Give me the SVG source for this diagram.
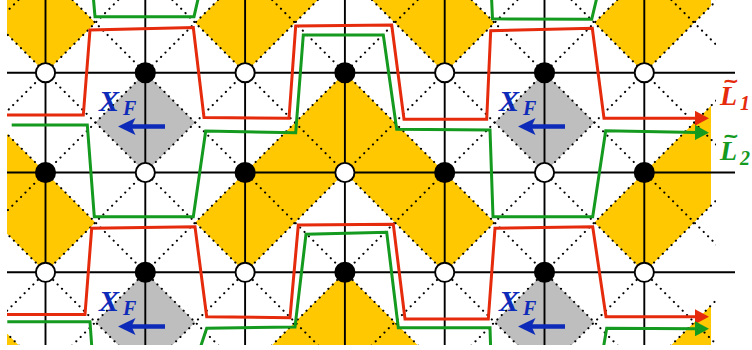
<svg xmlns="http://www.w3.org/2000/svg" width="752" height="350" viewBox="0 0 752 350">
  <style>
    .yel { fill: #FFC800; }
    .gry { fill: #BEBEBE; }
    .dot { fill: none; stroke: #000; stroke-width: 2.1; stroke-linecap: round; stroke-dasharray: 0.1 6.1; }
    .grid { stroke: #000; stroke-width: 1.9; fill: none; }
    .wn { fill: #fff; stroke: #000; stroke-width: 1.9; }
    .bn { fill: #000; stroke: #000; stroke-width: 1.9; }
    .red { fill: none; stroke: #E52B0C; stroke-width: 3; stroke-linejoin: miter; }
    .grn { fill: none; stroke: #149A1E; stroke-width: 3; stroke-linejoin: miter; }
    .lab { font-family: "Liberation Serif", "Times New Roman", serif; font-weight: bold; font-style: italic; }
    .xf { fill: #0D2BB8; }
    .tl { font-family: "DejaVu Sans", sans-serif; font-weight: bold; font-style: normal; font-size: 20px; }
  </style>
  <defs>
    <clipPath id="fillclip"><rect x="7" y="0" width="704" height="345"/></clipPath>
    <clipPath id="dotclip"><rect x="7" y="0" width="709" height="345"/></clipPath>
    <clipPath id="lineclip"><rect x="0" y="0" width="752" height="345"/></clipPath>
    <marker id="ahR" viewBox="0 0 14 15" refX="2" refY="7.5" markerWidth="14" markerHeight="15" markerUnits="userSpaceOnUse" orient="auto">
      <path d="M0,0 L14,7.5 L0,15 Z" fill="#E52B0C"/>
    </marker>
    <marker id="ahG" viewBox="0 0 14 15" refX="2" refY="7.5" markerWidth="14" markerHeight="15" markerUnits="userSpaceOnUse" orient="auto">
      <path d="M0,0 L14,7.5 L0,15 Z" fill="#149A1E"/>
    </marker>
  </defs>

  <!-- background tiling: yellow and gray triangles -->
  <g id="tiles" clip-path="url(#fillclip)">
    <g transform="translate(45.5 72.7) scale(0.998)">
      <g class="yel">
        <polygon points="-100,-100 0,-100 50,-50 0,0"/>
        <polygon points="150,-50 200,-100 300,-100 200,0"/>
        <polygon points="300,-100 400,-100 450,-50 400,0"/>
        <polygon points="550,-50 600,-100 700,-100 600,0"/>
        <polygon points="-100,100 0,100 50,150 0,200"/>
        <polygon points="150,150 200,100 300,100 200,200"/>
        <polygon points="300,100 400,100 450,150 400,200"/>
        <polygon points="550,150 600,100 700,100 600,200"/>
        <polygon points="-100,0 0,100 -200,100"/>
        <polygon points="300,0 400,100 200,100"/>
        <polygon points="700,0 800,100 600,100"/>
        <polygon points="-100,200 0,300 -200,300"/>
        <polygon points="300,200 400,300 200,300"/>
        <polygon points="700,200 800,300 600,300"/>
      </g>
      <g class="gry">
        <polygon points="100,0 150,50 100,100 50,50"/>
        <polygon points="500,0 550,50 500,100 450,50"/>
        <polygon points="100,200 150,250 100,300 50,250"/>
        <polygon points="500,200 550,250 500,300 450,250"/>
      </g>
    </g>
  </g>

  <!-- dotted diagonals -->
  <g id="diagonals" clip-path="url(#dotclip)">
    <g transform="translate(45.5 72.7) scale(0.998)" class="dot">
      <path d="M-600,-200 L0,400 M-500,-200 L100,400 M-400,-200 L200,400 M-300,-200 L300,400 M-200,-200 L400,400 M-100,-200 L500,400 M0,-200 L600,400 M100,-200 L700,400 M200,-200 L800,400 M300,-200 L900,400 M400,-200 L1000,400 M500,-200 L1100,400 M600,-200 L1200,400"/>
      <path d="M0,-200 L-600,400 M100,-200 L-500,400 M200,-200 L-400,400 M300,-200 L-300,400 M400,-200 L-200,400 M500,-200 L-100,400 M600,-200 L0,400 M700,-200 L100,400 M800,-200 L200,400 M900,-200 L300,400 M1000,-200 L400,400 M1100,-200 L500,400 M1200,-200 L600,400 M1300,-200 L700,400"/>
    </g>
  </g>

  <!-- solid lattice lines -->
  <g id="grid" class="grid">
    <path d="M7,72.7 H735 M7,172.5 H735 M7,272.3 H735"/>
    <path d="M45.5,0 V345 M145.3,0 V345 M245.1,0 V345 M344.9,0 V345 M444.7,0 V345 M544.5,0 V345 M644.3,0 V345"/>
  </g>

  <!-- lattice sites -->
  <g id="sites">
    <g id="n00"><circle class="wn" cx="45.5" cy="72.7" r="9.6"/></g>
    <g id="n10"><circle class="bn" cx="145.3" cy="72.7" r="9.6"/></g>
    <g id="n20"><circle class="wn" cx="245.1" cy="72.7" r="9.6"/></g>
    <g id="n30"><circle class="bn" cx="344.9" cy="72.7" r="9.6"/></g>
    <g id="n40"><circle class="wn" cx="444.7" cy="72.7" r="9.6"/></g>
    <g id="n50"><circle class="bn" cx="544.5" cy="72.7" r="9.6"/></g>
    <g id="n60"><circle class="wn" cx="644.3" cy="72.7" r="9.6"/></g>
    <g id="n01"><circle class="bn" cx="45.5" cy="172.5" r="9.6"/></g>
    <g id="n11"><circle class="wn" cx="145.3" cy="172.5" r="9.6"/></g>
    <g id="n21"><circle class="bn" cx="245.1" cy="172.5" r="9.6"/></g>
    <g id="n31"><circle class="wn" cx="344.9" cy="172.5" r="9.6"/></g>
    <g id="n41"><circle class="bn" cx="444.7" cy="172.5" r="9.6"/></g>
    <g id="n51"><circle class="wn" cx="544.5" cy="172.5" r="9.6"/></g>
    <g id="n61"><circle class="bn" cx="644.3" cy="172.5" r="9.6"/></g>
    <g id="n02"><circle class="wn" cx="45.5" cy="272.3" r="9.6"/></g>
    <g id="n12"><circle class="bn" cx="145.3" cy="272.3" r="9.6"/></g>
    <g id="n22"><circle class="wn" cx="245.1" cy="272.3" r="9.6"/></g>
    <g id="n32"><circle class="bn" cx="344.9" cy="272.3" r="9.6"/></g>
    <g id="n42"><circle class="wn" cx="444.7" cy="272.3" r="9.6"/></g>
    <g id="n52"><circle class="bn" cx="544.5" cy="272.3" r="9.6"/></g>
    <g id="n62"><circle class="wn" cx="644.3" cy="272.3" r="9.6"/></g>
  </g>

  <!-- X_F force markers -->
  <g id="xf1" class="xf">
    <text class="lab" x="99" y="110.5"><tspan font-size="30">X</tspan><tspan x="123" y="114.5" font-size="20">F</tspan></text>
    <path d="M130,126.5 H165" stroke="#0D2BB8" stroke-width="4.5"/>
    <polygon points="118,126.5 135.5,118 131.5,126.5 135.5,135"/>
  </g>
  <g id="xf2" class="xf">
    <text class="lab" x="499" y="110.5"><tspan font-size="30">X</tspan><tspan x="523" y="114.5" font-size="20">F</tspan></text>
    <path d="M530,126.5 H565" stroke="#0D2BB8" stroke-width="4.5"/>
    <polygon points="518,126.5 535.5,118 531.5,126.5 535.5,135"/>
  </g>
  <g id="xf3" class="xf">
    <text class="lab" x="99" y="310.5"><tspan font-size="30">X</tspan><tspan x="123" y="314.5" font-size="20">F</tspan></text>
    <path d="M130,326.5 H165" stroke="#0D2BB8" stroke-width="4.5"/>
    <polygon points="118,326.5 135.5,318 131.5,326.5 135.5,335"/>
  </g>
  <g id="xf4" class="xf">
    <text class="lab" x="499" y="310.5"><tspan font-size="30">X</tspan><tspan x="523" y="314.5" font-size="20">F</tspan></text>
    <path d="M530,326.5 H565" stroke="#0D2BB8" stroke-width="4.5"/>
    <polygon points="518,326.5 535.5,318 531.5,326.5 535.5,335"/>
  </g>

  <!-- connectors: the two string paths and their periodic copies -->
  <g id="connectors" clip-path="url(#lineclip)">
    <path id="L1a" class="red" marker-end="url(#ahR)" d="M7,115 L83.3,115 L90,30 L193.3,27.5 L204,117.5 L289,118.3 L295.7,26 L391.7,25 L404,119.3 L486.7,119.3 L490.7,30.7 L592.3,28.3 L604,118.3 L697,118.3"/>
    <path id="L1b" class="red" marker-end="url(#ahR)" d="M7,314.5 L85,314.5 L91.7,228.3 L195,226.7 L206.7,316.7 L290,317.7 L298.3,225 L393.3,224.3 L405,319 L488.3,319 L495,228.3 L592.7,226.7 L606,316.7 L697,316.7"/>
    <path id="L2a" class="grn" marker-end="url(#ahG)" d="M11.7,125 L87.3,125 L94.3,216.7 L193.3,216.7 L205.7,131 L295.7,132.7 L303.3,35 L383.3,35 L396.7,129.3 L490,130 L493,216.7 L592.7,216.7 L605.7,130.7 L697,132.6"/>
    <path id="L2top" class="grn" d="M93.3,-3 L95,16.7 L194,16.7 L198.5,-3 M491.5,-3 L492.5,18.8 L591.7,19.3 L597,-3"/>
    <path id="L2b" class="grn" d="M7.3,321.7 L90,321.7 L92,350 M199.5,350 L206.7,328.3 L295,327 L306,234.3 L386.7,232.3 L398.3,327.7 L490,327.7 L490.7,350"/>
    <path id="L2c" class="grn" marker-end="url(#ahG)" d="M603,350 L606.7,328.3 L697,328.8"/>
  </g>

  <!-- labels -->
  <g id="lab1">
    <text class="lab" fill="#E52B0C"><tspan class="tl" x="731" y="87" text-anchor="middle">~</tspan><tspan x="720" y="105" font-size="28">L</tspan><tspan x="740" y="109.5" font-size="20">1</tspan></text>
  </g>
  <g id="lab2">
    <text class="lab" fill="#149A1E"><tspan class="tl" x="731" y="142" text-anchor="middle">~</tspan><tspan x="720" y="160" font-size="28">L</tspan><tspan x="740" y="164.5" font-size="20">2</tspan></text>
  </g>
</svg>
